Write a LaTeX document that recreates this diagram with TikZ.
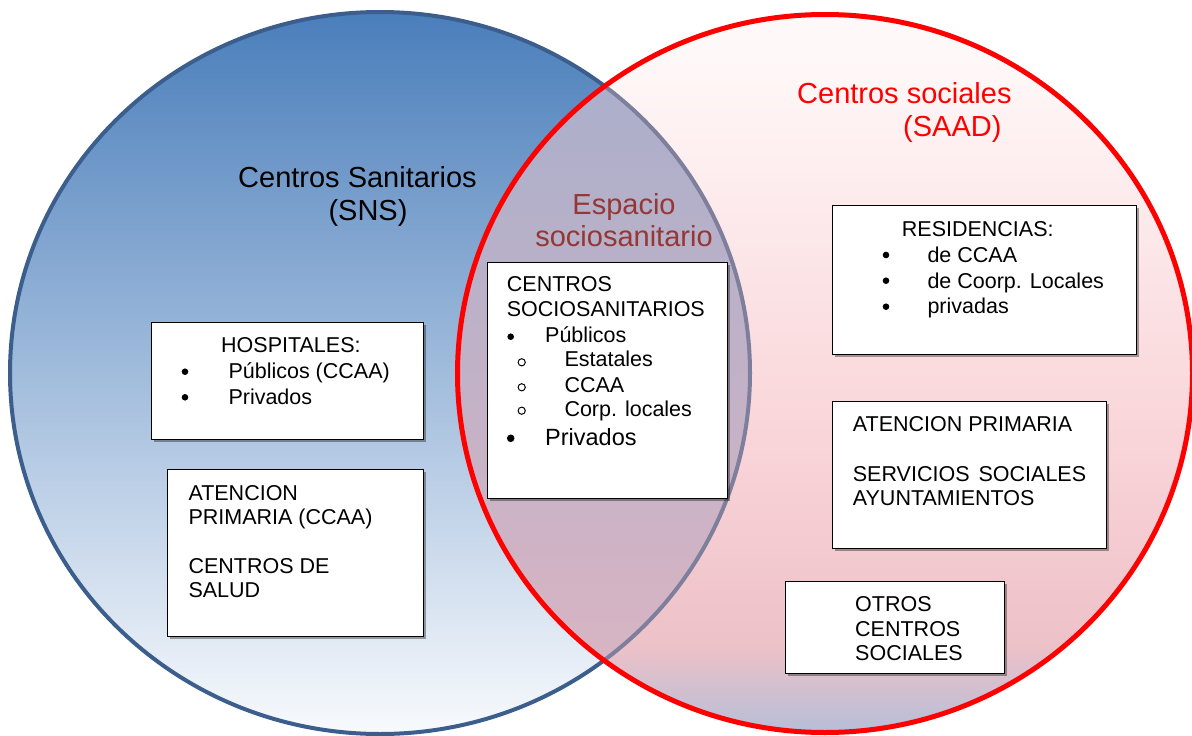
\documentclass[tikz,border=0pt]{standalone}
\usepackage{fontspec}
\setmainfont{Liberation Sans}
\usetikzlibrary{shadows}
\definecolor{sanblue}{HTML}{4A7EBB}
\definecolor{sanline}{HTML}{3B5E8C}
\definecolor{sanlow}{HTML}{F8FAFD}
\definecolor{socred}{HTML}{FF0000}
\definecolor{socT}{HTML}{FFF8F8}
\definecolor{socM}{HTML}{F9D4D8}
\definecolor{socP}{HTML}{EDC1C8}
\definecolor{socB}{HTML}{B6BED7}
\definecolor{mixT}{HTML}{A6AECC}
\definecolor{mixB}{HTML}{DDB5C2}
\definecolor{mixline}{HTML}{7E7F9C}
\definecolor{espacio}{HTML}{953735}
\pgfdeclareverticalshading{socshade}{100bp}{color(0bp)=(socB); color(25bp)=(socB); color(31bp)=(socP); color(45bp)=(socM); color(72bp)=(socT); color(100bp)=(socT)}
\begin{document}
\begin{tikzpicture}[x=1pt,y=-1pt,
  caja/.style={draw=black,line width=1.2pt,fill=white,anchor=north west,inner sep=0pt,
    drop shadow={shadow xshift=2pt,shadow yshift=-2pt,opacity=0.35,fill=black}},
  linea/.style={anchor=base west,inner sep=0pt,font=\fontsize{21.5}{26}\selectfont},
  titulo/.style={inner sep=0pt,font=\fontsize{29}{33}\selectfont}]
  \useasboundingbox (0,0) rectangle (1192,736);
  \shade [top color=sanblue,bottom color=sanlow] (380,373) ellipse [x radius=370,y radius=361];
  \draw [sanline,line width=4pt] (380,373) ellipse [x radius=370,y radius=361];
  \shade [shading=socshade] (825,373.5) ellipse [x radius=367.5,y radius=359];
  \begin{scope}
    \clip (380,373) ellipse [x radius=370,y radius=361];
    \shade [top color=mixT,bottom color=mixB] (825,373.5) ellipse [x radius=367.5,y radius=359];
  \end{scope}
  \begin{scope}
    \clip (825,373.5) ellipse [x radius=367.5,y radius=359];
    \draw [mixline,line width=4pt] (380,373) ellipse [x radius=370,y radius=361];
  \end{scope}
  \draw [socred,line width=5pt] (825,373.5) ellipse [x radius=367.5,y radius=359];
  \node [titulo,anchor=base west] (sns1) at (238,187.3) {Centros Sanitarios};
  \node [titulo,anchor=base west] (sns2) at (328.3,220.7) {(SNS)};
  \node [titulo,anchor=base west,socred] (saad1) at (797,103.3) {Centros sociales};
  \node [titulo,anchor=base west,socred] (saad2) at (903,136) {(SAAD)};
  \node [titulo,anchor=base,espacio] (esp1) at (624,214) {Espacio};
  \node [titulo,anchor=base,espacio] (esp2) at (624,246.7) {sociosanitario};
  \node [caja,minimum width=272pt,minimum height=117pt] (hosp) at (151,322) {};
  \node [caja,minimum width=256pt,minimum height=167pt] (apsan) at (167,469) {};
  \node [caja,minimum width=240pt,minimum height=236pt] (socsan) at (487,262) {};
  \node [caja,minimum width=304pt,minimum height=149pt] (resid) at (832,205) {};
  \node [caja,minimum width=274pt,minimum height=147pt] (apsoc) at (832,401) {};
  \node [caja,minimum width=219pt,minimum height=92pt] (otros) at (785,581) {};
  \node [linea] (hosp1) at (221,352.7) {HOSPITALES:};
  \node [linea] (hosp2) at (228.3,378.3) {Públicos (CCAA)};
  \node [linea] (hosp3) at (228.3,404.3) {Privados};
  \fill (185,371.7) circle (3.3);
  \fill (185,397.3) circle (3.3);
  \node [linea] (apsan1) at (188.3,500.7) {ATENCION};
  \node [linea] (apsan2) at (188.3,524.5) {PRIMARIA (CCAA)};
  \node [linea] (apsan3) at (188.3,573.3) {CENTROS DE};
  \node [linea] (apsan4) at (188.3,597.7) {SALUD};
  \node [linea] (socsan1) at (506.7,291.7) {CENTROS};
  \node [linea] (socsan2) at (506.7,316.7) {SOCIOSANITARIOS};
  \node [linea] (socsan3) at (545,342.7) {Públicos};
  \node [linea] (socsan4) at (564.3,366.7) {Estatales};
  \node [linea] (socsan5) at (564.3,392) {CCAA};
  \node [linea] (socsan6) at (564.3,416) {Corp. locales};
  \node [linea,font=\fontsize{23.5}{28}\selectfont] (socsan7) at (545,445) {Privados};
  \fill (510.7,336.7) circle (3.3);
  \fill (510.7,438.3) circle (3.8);
  \draw [line width=1pt] (521.7,362.3) circle (3.6);
  \draw [line width=1pt] (521.7,387.3) circle (3.6);
  \draw [line width=1pt] (521.7,410.7) circle (3.6);
  \node [linea] (resid1) at (901.7,236.7) {RESIDENCIAS:};
  \node [linea] (resid2) at (927.3,262.7) {de CCAA};
  \node [linea] (resid3) at (927.3,288.3) {de Coorp. Locales};
  \node [linea] (resid4) at (927.3,313.5) {privadas};
  \fill (886,255) circle (3.3);
  \fill (886,280.7) circle (3.3);
  \fill (886,306.7) circle (3.3);
  \node [linea] (apsoc1) at (852.7,431) {ATENCION PRIMARIA};
  \node [linea] (apsoc2) at (852.7,481) {SERVICIOS\hspace{9pt}SOCIALES};
  \node [linea] (apsoc3) at (852.7,505) {AYUNTAMIENTOS};
  \node [linea] (otros1) at (855,611) {OTROS};
  \node [linea] (otros2) at (855,636) {CENTROS};
  \node [linea] (otros3) at (855,660) {SOCIALES};
\end{tikzpicture}
\end{document}
